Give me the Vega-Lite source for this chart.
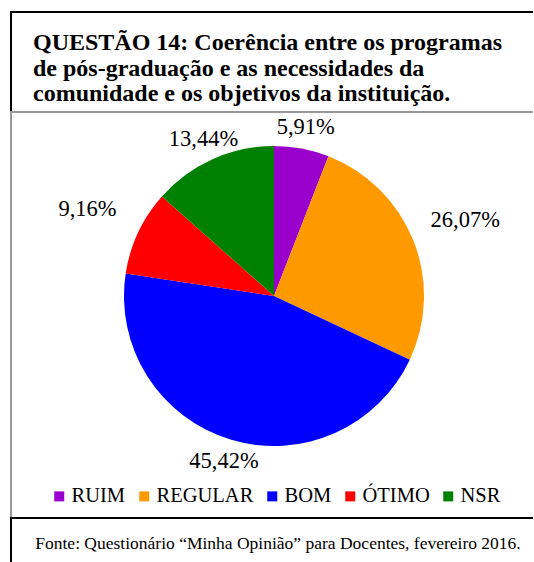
{
  "$schema": "https://vega.github.io/schema/vega-lite/v6.json",
  "padding": {"left": 10, "top": 11, "right": -3, "bottom": -4},
  "background": "white",
  "config": {
    "font": "Liberation Serif",
    "locale": {"number": {"decimal": ",", "thousands": ".", "grouping": [3], "currency": ["R$", ""]}}
  },
  "datasets": {
    "d": [
      {"cat": "RUIM", "pct": 0.0591, "i": 1},
      {"cat": "REGULAR", "pct": 0.2607, "i": 2},
      {"cat": "BOM", "pct": 0.4542, "i": 3},
      {"cat": "ÓTIMO", "pct": 0.0916, "i": 4},
      {"cat": "NSR", "pct": 0.1344, "i": 5}
    ]
  },
  "bounds": "flush",
  "spacing": 0,
  "vconcat": [
    {
      "width": 524,
      "height": 100,
      "view": {"stroke": "#000000", "strokeWidth": 2},
      "data": {"values": [{}]},
      "mark": {"type": "text"},
      "encoding": {"text": {"value": ""}},
      "title": {
        "text": ["QUESTÃO 14: Coerência entre os programas", "de pós-graduação e as necessidades da", "comunidade e os objetivos da instituição."],
        "anchor": "start",
        "frame": "group",
        "orient": "top",
        "offset": -94,
        "dx": 22,
        "baseline": "top",
        "font": "Liberation Serif",
        "fontSize": 24,
        "fontWeight": "bold",
        "color": "#000000",
        "lineHeight": 25.5
      }
    },
    {
      "width": 524,
      "height": 406,
      "view": {"stroke": "#999999", "strokeWidth": 2},
      "data": {"name": "d"},
      "encoding": {
        "theta": {"field": "pct", "type": "quantitative", "stack": true},
        "order": {"field": "i", "type": "quantitative"},
        "detail": {"field": "cat", "type": "nominal"}
      },
      "layer": [
        {
          "mark": {"type": "arc", "outerRadius": 150, "xOffset": 1, "yOffset": -19},
          "encoding": {
            "color": {
              "field": "cat",
              "type": "nominal",
              "scale": {
                "domain": ["RUIM", "REGULAR", "BOM", "ÓTIMO", "NSR"],
                "range": ["#9900CC", "#FF9900", "#0000FF", "#FF0000", "#008000"]
              },
              "legend": {
                "title": null,
                "orient": "none",
                "legendX": 38,
                "legendY": 474,
                "direction": "horizontal",
                "symbolType": "square",
                "symbolSize": 100,
                "symbolStrokeWidth": 0,
                "symbolOpacity": 1,
                "labelFont": "Liberation Serif",
                "labelFontSize": 20.5,
                "labelColor": "#000000",
                "labelOffset": 2,
                "labelLimit": 300,
                "columnPadding": 8,
                "padding": 0
              }
            }
          }
        },
        {
          "mark": {"type": "text", "radius": 172, "fontSize": 22.5, "xOffset": 1, "yOffset": -19, "color": "#000000"},
          "encoding": {
            "text": {"field": "pct", "type": "quantitative", "format": ".2%"},
            "opacity": {"condition": {"test": "datum.cat === 'REGULAR' || datum.cat === 'ÓTIMO'", "value": 0}, "value": 1}
          }
        },
        {
          "mark": {"type": "text", "radius": 206, "fontSize": 22.5, "xOffset": 1, "yOffset": -19, "color": "#000000"},
          "encoding": {
            "text": {"field": "pct", "type": "quantitative", "format": ".2%"},
            "opacity": {"condition": {"test": "datum.cat === 'REGULAR' || datum.cat === 'ÓTIMO'", "value": 1}, "value": 0}
          }
        }
      ]
    },
    {
      "width": 524,
      "height": 47,
      "view": {"stroke": "#000000", "strokeWidth": 2},
      "data": {"values": [{"t": "Fonte: Questionário “Minha Opinião” para Docentes, fevereiro 2016."}]},
      "mark": {"type": "text", "fontSize": 17.5, "dx": 5, "dy": 2, "color": "#000000"},
      "encoding": {"text": {"field": "t", "type": "nominal"}}
    }
  ]
}
